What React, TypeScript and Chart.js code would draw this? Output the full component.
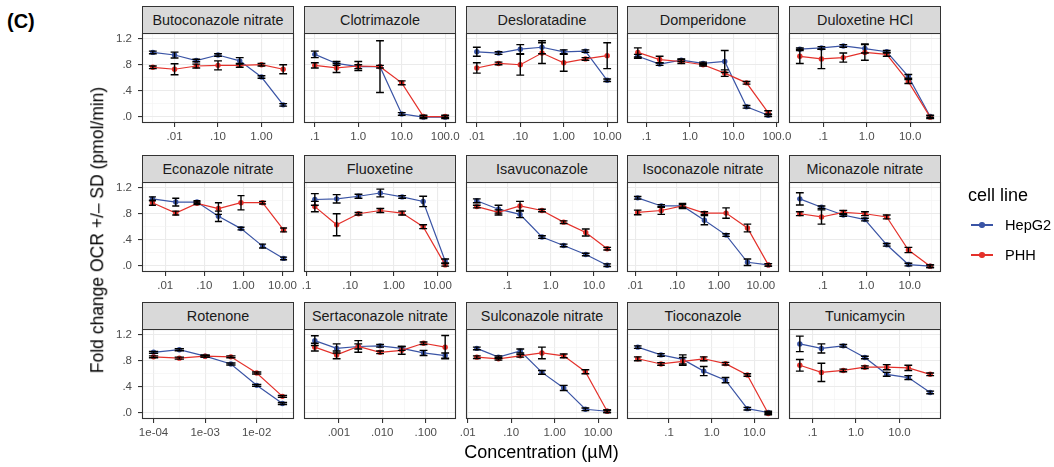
import React, { useEffect, useRef } from "react";
import { Chart, registerables } from "chart.js";
Chart.register(...registerables);

const FONT = "'Liberation Sans', Arial, Helvetica, sans-serif";
const HEPG2_COLOR = "#3A54A5";
const PHH_COLOR = "#E4312B";

// ---------- data (concentration in µM, fold change OCR, SD) ----------
const butoConc = [0.00316, 0.01, 0.0316, 0.1, 0.316, 1, 3.16];
const butoHep = [0.99, 0.95, 0.865, 0.95, 0.86, 0.61, 0.18];
const butoHepSd = [0.02, 0.045, 0.02, 0.02, 0.05, 0.02, 0.02];
const butoPhh = [0.76, 0.73, 0.78, 0.79, 0.79, 0.8, 0.73];
const butoPhhSd = [0.02, 0.085, 0.03, 0.07, 0.03, 0.02, 0.07];

const clotConc = [0.1, 0.316, 1, 3.16, 10, 31.6, 100];
const clotHep = [0.96, 0.82, 0.77, 0.77, 0.04, -0.01, -0.01];
const clotHepSd = [0.05, 0.03, 0.03, 0.4, 0.02, 0.02, 0.02];
const clotPhh = [0.79, 0.75, 0.78, 0.77, 0.52, 0.0, 0.0];
const clotPhhSd = [0.04, 0.07, 0.07, 0.02, 0.03, 0.02, 0.02];

const deslConc = [0.01, 0.0316, 0.1, 0.316, 1, 3.16, 10];
const deslHep = [1.0, 0.98, 1.04, 1.07, 1.0, 1.01, 0.56];
const deslHepSd = [0.07, 0.02, 0.07, 0.1, 0.03, 0.02, 0.02];
const deslPhh = [0.75, 0.82, 0.8, 0.98, 0.83, 0.89, 0.94];
const deslPhhSd = [0.08, 0.02, 0.16, 0.16, 0.13, 0.02, 0.2];

const dompConc = [0.063, 0.2, 0.63, 2, 6.3, 20, 63];
const dompHep = [0.93, 0.81, 0.87, 0.82, 0.85, 0.15, 0.02];
const dompHepSd = [0.03, 0.02, 0.02, 0.02, 0.17, 0.02, 0.02];
const dompPhh = [0.99, 0.88, 0.85, 0.8, 0.67, 0.52, 0.06];
const dompPhhSd = [0.07, 0.05, 0.03, 0.02, 0.05, 0.02, 0.03];

const dulConc = [0.029, 0.091, 0.29, 0.91, 2.9, 9.1, 29];
const dulHep = [1.04, 1.06, 1.09, 1.05, 1.0, 0.62, 0.0];
const dulHepSd = [0.02, 0.02, 0.02, 0.07, 0.02, 0.03, 0.02];
const dulPhh = [0.93, 0.89, 0.91, 0.99, 0.96, 0.54, -0.01];
const dulPhhSd = [0.11, 0.15, 0.07, 0.12, 0.03, 0.03, 0.02];

const econConc = [0.0047, 0.0186, 0.065, 0.23, 0.87, 3.1, 10.7];
const econHep = [1.03, 0.98, 0.98, 0.76, 0.57, 0.3, 0.11];
const econHepSd = [0.03, 0.06, 0.02, 0.08, 0.02, 0.03, 0.02];
const econPhh = [0.97, 0.81, 0.96, 0.88, 0.97, 0.97, 0.55];
const econPhhSd = [0.04, 0.03, 0.02, 0.09, 0.11, 0.02, 0.03];

const fluoConc = [0.0155, 0.049, 0.155, 0.49, 1.55, 4.7, 15];
const fluoHep = [1.02, 1.03, 1.07, 1.12, 1.06, 0.99, 0.07];
const fluoHepSd = [0.09, 0.065, 0.03, 0.06, 0.02, 0.08, 0.03];
const fluoPhh = [0.91, 0.63, 0.8, 0.85, 0.81, 0.6, 0.01];
const fluoPhhSd = [0.08, 0.17, 0.02, 0.03, 0.03, 0.03, 0.02];

const isavConc = [0.0195, 0.062, 0.195, 0.63, 2, 6.5, 20.4];
const isavHep = [1.0, 0.87, 0.79, 0.44, 0.31, 0.17, 0.005];
const isavHepSd = [0.03, 0.06, 0.05, 0.02, 0.02, 0.02, 0.02];
const isavPhh = [0.91, 0.82, 0.92, 0.85, 0.67, 0.51, 0.26];
const isavPhhSd = [0.02, 0.04, 0.07, 0.02, 0.02, 0.055, 0.02];

const isocConc = [0.0115, 0.042, 0.135, 0.45, 1.48, 4.8, 15.1];
const isocHep = [1.045, 0.92, 0.92, 0.7, 0.47, 0.05, 0.01];
const isocHepSd = [0.02, 0.02, 0.02, 0.07, 0.02, 0.05, 0.02];
const isocPhh = [0.82, 0.85, 0.92, 0.81, 0.81, 0.58, 0.01];
const isocPhhSd = [0.035, 0.06, 0.04, 0.02, 0.08, 0.06, 0.02];

const micoConc = [0.0295, 0.093, 0.295, 0.93, 2.95, 9.3, 29.5];
const micoHep = [1.03, 0.9, 0.78, 0.71, 0.32, 0.015, -0.01];
const micoHepSd = [0.095, 0.02, 0.02, 0.02, 0.02, 0.02, 0.02];
const micoPhh = [0.8, 0.75, 0.82, 0.8, 0.75, 0.24, -0.01];
const micoPhhSd = [0.03, 0.11, 0.03, 0.03, 0.03, 0.04, 0.02];

const rotConc = [0.0001, 0.000316, 0.001, 0.00316, 0.01, 0.0316];
const rotHep = [0.93, 0.97, 0.87, 0.75, 0.42, 0.14];
const rotHepSd = [0.015, 0.015, 0.015, 0.015, 0.015, 0.015];
const rotPhh = [0.86, 0.84, 0.87, 0.86, 0.61, 0.25];
const rotPhhSd = [0.015, 0.015, 0.015, 0.015, 0.015, 0.015];

const sertConc = [0.00028, 0.00089, 0.0028, 0.0089, 0.028, 0.089, 0.28];
const sertHep = [1.11, 0.99, 1.02, 1.03, 0.99, 0.92, 0.88];
const sertHepSd = [0.075, 0.07, 0.04, 0.02, 0.03, 0.04, 0.04];
const sertPhh = [1.01, 0.89, 1.02, 0.93, 0.96, 1.07, 1.01];
const sertPhhSd = [0.06, 0.06, 0.09, 0.02, 0.06, 0.02, 0.18];

const sulcConc = [0.0162, 0.051, 0.162, 0.51, 1.62, 5.1, 16.2];
const sulcHep = [0.99, 0.855, 0.95, 0.62, 0.38, 0.05, 0.02];
const sulcHepSd = [0.02, 0.02, 0.03, 0.03, 0.04, 0.02, 0.02];
const sulcPhh = [0.855, 0.83, 0.875, 0.92, 0.875, 0.63, 0.02];
const sulcPhhSd = [0.02, 0.02, 0.02, 0.09, 0.03, 0.03, 0.02];

const tiocConc = [0.0186, 0.065, 0.21, 0.65, 2.1, 6.8, 21];
const tiocHep = [1.01, 0.89, 0.82, 0.64, 0.5, 0.06, 0.0];
const tiocHepSd = [0.02, 0.02, 0.07, 0.07, 0.04, 0.02, 0.02];
const tiocPhh = [0.83, 0.75, 0.79, 0.83, 0.755, 0.58, -0.015];
const tiocPhhSd = [0.03, 0.02, 0.06, 0.03, 0.02, 0.02, 0.02];

const tuniConc = [0.051, 0.16, 0.51, 1.6, 5.1, 16, 51];
const tuniHep = [1.06, 0.99, 1.03, 0.85, 0.59, 0.54, 0.31];
const tuniHepSd = [0.12, 0.07, 0.02, 0.02, 0.03, 0.03, 0.02];
const tuniPhh = [0.73, 0.62, 0.65, 0.7, 0.7, 0.69, 0.59];
const tuniPhhSd = [0.09, 0.14, 0.02, 0.02, 0.04, 0.04, 0.02];

// ---------- tick labels ----------
const ticks01x3 = [0.01, 0.1, 1];
const labels01x3 = [".01", ".10", "1.00"];
const ticks01x4 = [0.01, 0.1, 1, 10];
const labels01x4 = [".01", ".10", "1.00", "10.00"];
const labelsFluo = [".1", ".10", "1.00", "10.00"];
const ticks1x4 = [0.1, 1, 10, 100];
const labels1x4 = [".1", "1.0", "10.0", "100.0"];
const ticks1x3 = [0.1, 1, 10];
const labels1x3 = [".1", "1.0", "10.0"];
const ticksRot = [0.0001, 0.001, 0.01];
const labelsRot = ["1e-04", "1e-03", "1e-02"];
const ticksSert = [0.001, 0.01, 0.1];
const labelsSert = [".001", ".010", ".100"];

const yMajor = [0, 0.4, 0.8, 1.2];
const yLabels = [".0", ".4", ".8", "1.2"];
const yMinor = [0.2, 0.6, 1.0];

const seriesNames = ["HepG2", "PHH"];

type Panel = {
  name: string; conc: number[]; hep: number[]; hepSd: number[];
  phh: number[]; phhSd: number[]; majors: number[]; labels: string[];
};

const panels: Panel[] = [
  { name: "Butoconazole nitrate", conc: butoConc, hep: butoHep, hepSd: butoHepSd, phh: butoPhh, phhSd: butoPhhSd, majors: ticks01x3, labels: labels01x3 },
  { name: "Clotrimazole", conc: clotConc, hep: clotHep, hepSd: clotHepSd, phh: clotPhh, phhSd: clotPhhSd, majors: ticks1x4, labels: labels1x4 },
  { name: "Desloratadine", conc: deslConc, hep: deslHep, hepSd: deslHepSd, phh: deslPhh, phhSd: deslPhhSd, majors: ticks01x4, labels: labels01x4 },
  { name: "Domperidone", conc: dompConc, hep: dompHep, hepSd: dompHepSd, phh: dompPhh, phhSd: dompPhhSd, majors: ticks1x4, labels: labels1x4 },
  { name: "Duloxetine HCl", conc: dulConc, hep: dulHep, hepSd: dulHepSd, phh: dulPhh, phhSd: dulPhhSd, majors: ticks1x3, labels: labels1x3 },
  { name: "Econazole nitrate", conc: econConc, hep: econHep, hepSd: econHepSd, phh: econPhh, phhSd: econPhhSd, majors: ticks01x4, labels: labels01x4 },
  { name: "Fluoxetine", conc: fluoConc, hep: fluoHep, hepSd: fluoHepSd, phh: fluoPhh, phhSd: fluoPhhSd, majors: ticks01x4, labels: labelsFluo },
  { name: "Isavuconazole", conc: isavConc, hep: isavHep, hepSd: isavHepSd, phh: isavPhh, phhSd: isavPhhSd, majors: ticks1x3, labels: labels1x3 },
  { name: "Isoconazole nitrate", conc: isocConc, hep: isocHep, hepSd: isocHepSd, phh: isocPhh, phhSd: isocPhhSd, majors: ticks01x4, labels: labels01x4 },
  { name: "Miconazole nitrate", conc: micoConc, hep: micoHep, hepSd: micoHepSd, phh: micoPhh, phhSd: micoPhhSd, majors: ticks1x3, labels: labels1x3 },
  { name: "Rotenone", conc: rotConc, hep: rotHep, hepSd: rotHepSd, phh: rotPhh, phhSd: rotPhhSd, majors: ticksRot, labels: labelsRot },
  { name: "Sertaconazole nitrate", conc: sertConc, hep: sertHep, hepSd: sertHepSd, phh: sertPhh, phhSd: sertPhhSd, majors: ticksSert, labels: labelsSert },
  { name: "Sulconazole nitrate", conc: sulcConc, hep: sulcHep, hepSd: sulcHepSd, phh: sulcPhh, phhSd: sulcPhhSd, majors: ticks01x4, labels: labels01x4 },
  { name: "Tioconazole", conc: tiocConc, hep: tiocHep, hepSd: tiocHepSd, phh: tiocPhh, phhSd: tiocPhhSd, majors: ticks1x3, labels: labels1x3 },
  { name: "Tunicamycin", conc: tuniConc, hep: tuniHep, hepSd: tuniHepSd, phh: tuniPhh, phhSd: tuniPhhSd, majors: ticks1x3, labels: labels1x3 },
];

// ---------- layout ----------
const PLOT_LEFT = [142, 304, 466, 627, 789];
const PLOT_TOP = [33, 182, 329];
const PLOT_W = 152;
const PLOT_H = 90;
const STRIP_H = 27;
const PAD_TOP = 4;
const XAXIS_H = 24;
const CAP_W = 0.18; // error bar width in log10 units
const Y_MIN = -0.1;
const Y_MAX = 1.29;

const near = (a: number, b: number) => Math.abs(Math.log10(a) - Math.log10(b)) < 1e-6;

const decorPlugin = {
  id: "panelDecor",
  afterDatasetsDraw(chart: any) {
    const { ctx, chartArea } = chart;
    const xs = chart.scales.x;
    const ys = chart.scales.y;
    const f = Math.pow(10, CAP_W / 2);
    ctx.save();
    ctx.beginPath();
    ctx.rect(chartArea.left, chartArea.top, chartArea.right - chartArea.left, chartArea.bottom - chartArea.top);
    ctx.clip();
    ctx.strokeStyle = "#000000";
    ctx.lineWidth = 1.4;
    chart.data.datasets.forEach((ds: any) => {
      ds.data.forEach((pt: any, i: number) => {
        const sd = ds.sd[i];
        const x = xs.getPixelForValue(pt.x);
        const x0 = xs.getPixelForValue(pt.x / f);
        const x1 = xs.getPixelForValue(pt.x * f);
        const yt = ys.getPixelForValue(pt.y + sd);
        const yb = ys.getPixelForValue(pt.y - sd);
        ctx.beginPath();
        ctx.moveTo(x, yt); ctx.lineTo(x, yb);
        ctx.moveTo(x0, yt); ctx.lineTo(x1, yt);
        ctx.moveTo(x0, yb); ctx.lineTo(x1, yb);
        ctx.stroke();
      });
    });
    ctx.restore();
  },
  afterDraw(chart: any) {
    const { ctx, chartArea } = chart;
    ctx.save();
    ctx.strokeStyle = "#333333";
    ctx.lineWidth = 1.1;
    ctx.strokeRect(chartArea.left + 0.5, chartArea.top + 0.5, chartArea.right - chartArea.left - 1, chartArea.bottom - chartArea.top - 1);
    ctx.restore();
  },
};

function PanelChart({ p, col, row }: { p: Panel; col: number; row: number }) {
  const ref = useRef<HTMLCanvasElement>(null);
  const leftPad = col === 0 ? 42 : 20;
  const width = leftPad + PLOT_W + 20;
  const height = PAD_TOP + PLOT_H + XAXIS_H;

  useEffect(() => {
    const lo = Math.log10(Math.min(...p.conc));
    const hi = Math.log10(Math.max(...p.conc));
    const R = hi - lo;
    const total = (R + CAP_W) * 1.1;
    const pad = (total - R) / 2;
    const xmin = Math.pow(10, lo - pad);
    const xmax = Math.pow(10, hi + pad);
    const s10 = Math.sqrt(10);
    const minors: number[] = [];
    p.majors.forEach((m) => {
      [m / s10, m * s10].forEach((v) => {
        if (v >= xmin && v <= xmax && !minors.some((u) => near(u, v))) minors.push(v);
      });
    });
    const majorsIn = p.majors.filter((v) => v >= xmin * 0.999 && v <= xmax * 1.001);
    const xTicks = [...majorsIn, ...minors].sort((a, b) => a - b);
    const isMajorX = (v: number) => p.majors.some((m) => near(m, v));
    const labelX = (v: number) => {
      const idx = p.majors.findIndex((m) => near(m, v));
      return idx >= 0 ? p.labels[idx] : "";
    };
    const yTicks = [...yMajor, ...yMinor].sort((a, b) => a - b);
    const isMajorY = (v: number) => yMajor.some((m) => Math.abs(m - v) < 1e-6);
    const labelY = (v: number) => {
      const idx = yMajor.findIndex((m) => Math.abs(m - v) < 1e-6);
      return idx >= 0 ? yLabels[idx] : "";
    };
    const tickFont = { family: FONT, size: 11.5 };

    const chart = new Chart(ref.current as HTMLCanvasElement, {
      type: "line",
      data: {
        datasets: [
          {
            label: seriesNames[1],
            data: p.conc.map((x, i) => ({ x, y: p.phh[i] })),
            sd: p.phhSd,
            borderColor: PHH_COLOR,
            backgroundColor: PHH_COLOR,
            pointBackgroundColor: PHH_COLOR,
            pointBorderWidth: 0,
            pointRadius: 2.7,
            borderWidth: 1.2,
            tension: 0,
            order: 0,
          } as any,
          {
            label: seriesNames[0],
            data: p.conc.map((x, i) => ({ x, y: p.hep[i] })),
            sd: p.hepSd,
            borderColor: HEPG2_COLOR,
            backgroundColor: HEPG2_COLOR,
            pointBackgroundColor: HEPG2_COLOR,
            pointBorderWidth: 0,
            pointRadius: 2.7,
            borderWidth: 1.2,
            tension: 0,
            order: 1,
          } as any,
        ],
      },
      options: {
        animation: false,
        responsive: false,
        maintainAspectRatio: false,
        events: [],
        layout: { padding: { left: col === 0 ? 0 : leftPad, right: 20, top: PAD_TOP, bottom: 0 } },
        plugins: { legend: { display: false }, tooltip: { enabled: false }, title: { display: false } },
        scales: {
          x: {
            type: "logarithmic",
            bounds: "data",
            min: xmin,
            max: xmax,
            afterBuildTicks: (s: any) => { s.ticks = xTicks.map((v) => ({ value: v })); },
            afterFit: (s: any) => {
              s.height = XAXIS_H;
              s.paddingLeft = 0; s.paddingRight = 0; s.paddingTop = 0; s.paddingBottom = 0;
            },
            border: { display: false },
            grid: {
              drawTicks: true,
              tickLength: 4,
              color: (c: any) => (c.tick && isMajorX(c.tick.value) ? "#ebebeb" : "#f2f2f2"),
              lineWidth: (c: any) => (c.tick && isMajorX(c.tick.value) ? 1.1 : 0.6),
              tickColor: (c: any) => (c.tick && isMajorX(c.tick.value) ? "#333333" : "rgba(0,0,0,0)"),
              tickWidth: 1.1,
            },
            ticks: {
              autoSkip: false,
              maxRotation: 0,
              minRotation: 0,
              padding: 3,
              color: "#4d4d4d",
              font: tickFont,
              callback: (v: any) => labelX(Number(v)),
            },
          } as any,
          y: {
            type: "linear",
            bounds: "data",
            min: Y_MIN,
            max: Y_MAX,
            afterBuildTicks: (s: any) => { s.ticks = yTicks.map((v) => ({ value: v })); },
            afterFit: (s: any) => {
              s.width = col === 0 ? leftPad : 0;
              s.paddingTop = 0; s.paddingBottom = 0; s.paddingLeft = 0; s.paddingRight = 0;
            },
            border: { display: false },
            grid: {
              drawTicks: col === 0,
              tickLength: 4,
              color: (c: any) => (c.tick && isMajorY(c.tick.value) ? "#ebebeb" : "#f2f2f2"),
              lineWidth: (c: any) => (c.tick && isMajorY(c.tick.value) ? 1.1 : 0.6),
              tickColor: (c: any) => (c.tick && isMajorY(c.tick.value) ? "#333333" : "rgba(0,0,0,0)"),
              tickWidth: 1.1,
            },
            ticks: {
              display: col === 0,
              autoSkip: false,
              padding: 6,
              color: "#4d4d4d",
              font: tickFont,
              callback: (v: any) => labelY(Number(v)),
            },
          } as any,
        },
      },
      plugins: [decorPlugin as any],
    });
    return () => chart.destroy();
  }, []);

  const left = PLOT_LEFT[col] - leftPad;
  const top = PLOT_TOP[row] - PAD_TOP;
  return (
    <>
      <canvas
        ref={ref}
        width={width}
        height={height}
        style={{ position: "absolute", left, top, width, height }}
      />
      <div
        style={{
          position: "absolute",
          left: PLOT_LEFT[col],
          top: PLOT_TOP[row] - STRIP_H,
          width: PLOT_W,
          height: STRIP_H + 1,
          boxSizing: "border-box",
          border: "1.1px solid #333333",
          background: "#d9d9d9",
          display: "flex",
          alignItems: "center",
          justifyContent: "center",
          fontFamily: FONT,
          fontSize: 14.4,
          color: "#1a1a1a",
          whiteSpace: "nowrap",
          lineHeight: 1,
        }}
      >
        {p.name}
      </div>
    </>
  );
}

function CenterText({ x, y, size, children, rotate, bold, color }: any) {
  return (
    <div
      style={{
        position: "absolute",
        left: x,
        top: y,
        transform: `translate(-50%, -50%)${rotate ? ` rotate(${rotate}deg)` : ""}`,
        fontFamily: FONT,
        fontSize: size,
        fontWeight: bold ? 700 : 400,
        color: color || "#000000",
        whiteSpace: "nowrap",
        lineHeight: 1,
      }}
    >
      {children}
    </div>
  );
}

function LegendItem({ y, color, label }: { y: number; color: string; label: string }) {
  return (
    <>
      <div style={{ position: "absolute", left: 971, top: y - 0.6, width: 22, height: 1.2, background: color }} />
      <div style={{ position: "absolute", left: 982 - 2.7, top: y - 2.7, width: 5.4, height: 5.4, borderRadius: "50%", background: color }} />
      <div
        style={{
          position: "absolute", left: 1005, top: y, transform: "translateY(-50%)",
          fontFamily: FONT, fontSize: 14.6, color: "#000", lineHeight: 1, whiteSpace: "nowrap",
        }}
      >
        {label}
      </div>
    </>
  );
}

export default function App() {
  return (
    <div style={{ position: "absolute", left: 0, top: 0, width: 1054, height: 467, background: "#ffffff", overflow: "hidden" }}>
      <div style={{ position: "absolute", left: 7, top: 11, fontFamily: FONT, fontWeight: 700, fontSize: 20, lineHeight: 1, color: "#000" }}>(C)</div>
      {panels.map((p, i) => (
        <PanelChart key={p.name} p={p} col={i % 5} row={Math.floor(i / 5)} />
      ))}
      <CenterText x={98} y={230} size={17.5} rotate={-90}>Fold change OCR +/– SD (pmol/min)</CenterText>
      <CenterText x={541.5} y={452} size={18}>Concentration (µM)</CenterText>
      <div style={{ position: "absolute", left: 968, top: 195, transform: "translateY(-50%)", fontFamily: FONT, fontSize: 18, lineHeight: 1, color: "#000", whiteSpace: "nowrap" }}>
        cell line
      </div>
      <LegendItem y={225} color={HEPG2_COLOR} label={seriesNames[0]} />
      <LegendItem y={255} color={PHH_COLOR} label={seriesNames[1]} />
    </div>
  );
}
